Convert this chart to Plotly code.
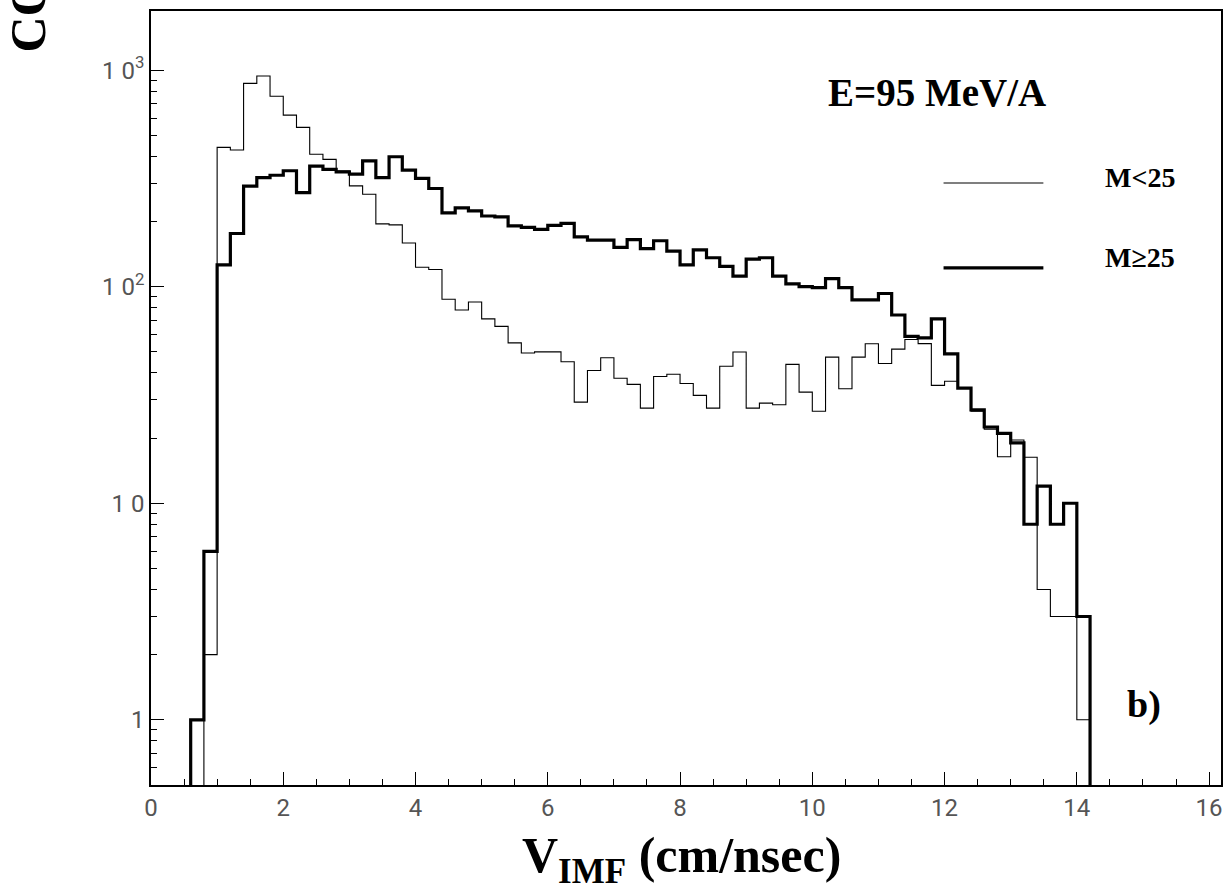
import plotly.graph_objects as go

# ---- data ----
BIN_WIDTH = 0.2

# M>=25 (thick line), first bin starts at 0.6 cm/ns
thick_start = 0.6
thick_counts = [1, 6, 126, 176, 291, 319, 327, 343, 272, 360,
                348, 339, 331, 381, 319, 398, 345, 316, 284, 219,
                231, 224, 212, 210, 191, 188, 184, 192, 196, 170,
                164, 164, 152, 165, 150, 163, 146, 126, 148, 136,
                124, 112, 134, 136, 112, 103, 100, 99, 109, 99,
                87, 87, 93, 74, 59, 58, 71, 49, 34, 27,
                22.5, 21, 19, 8, 12, 8, 10, 3]

# M<25 (thin line), first bin starts at 0.8 cm/ns
thin_start = 0.8
thin_counts = [2, 440, 428, 869, 940, 757, 620, 544, 409, 387,
               342, 292, 267, 195, 193, 159, 123, 120, 87.5, 78,
               85, 71, 65.6, 55, 49.4, 50, 50, 45, 29.3, 41,
               47, 37.8, 35.4, 27.5, 38.5, 39.4, 35.7, 31.5, 27.5, 42.9,
               49.9, 27.5, 29, 28.5, 43.8, 32.6, 26.6, 47.3, 33.8, 47.3,
               54.5, 44.2, 51.5, 57, 54.6, 35, 36.6, 34, 26.6, 22,
               16.4, 19.6, 16.3, 4, 3, 3, 1]

x_tick_values = [0, 2, 4, 6, 8, 10, 12, 14, 16]
y_tick_values = [1, 10, 100, 1000]
y_tick_labels = ["1", "1 0", "1 0<sup>2</sup>", "1 0<sup>3</sup>"]

FLOOR = 0.3  # below the visible range so the outline drops to the axis


def step_xy(start, counts):
    edges = [round(start + BIN_WIDTH * i, 6) for i in range(len(counts) + 1)]
    x = [edges[0]] + edges[:-1] + [edges[-1], edges[-1]]
    y = [FLOOR] + list(counts) + [counts[-1], FLOOR]
    return x, y


fig = go.Figure()
tx, ty = step_xy(thin_start, thin_counts)
fig.add_trace(go.Scatter(x=tx, y=ty, mode="lines", line_shape="hv",
                         line=dict(color="black", width=1.1), name="M<25"))
kx, ky = step_xy(thick_start, thick_counts)
fig.add_trace(go.Scatter(x=kx, y=ky, mode="lines", line_shape="hv",
                         line=dict(color="black", width=3.2), name="M≥25"))

tick_font = dict(family="Roboto, Liberation Sans, sans-serif", size=24, color="#555")

fig.update_layout(
    width=1228, height=895,
    margin=dict(l=151, r=5, t=11, b=110),
    plot_bgcolor="white", paper_bgcolor="white",
    showlegend=False,
    xaxis=dict(
        range=[0, 16.18], tickmode="array", tickvals=x_tick_values,
        ticks="inside", ticklen=13, tickwidth=1.2, tickcolor="black",
        showline=True, linecolor="black", linewidth=1.5, mirror=True,
        showgrid=False, zeroline=False, tickfont=tick_font,
        minor=dict(dtick=0.5, tick0=0, ticks="inside", ticklen=6,
                   tickwidth=1, tickcolor="black", showgrid=False),
    ),
    yaxis=dict(
        type="log", range=[-0.301, 3.273],
        tickmode="array", tickvals=y_tick_values, ticktext=y_tick_labels,
        ticks="inside", ticklen=13, tickwidth=1.2, tickcolor="black",
        showline=True, linecolor="black", linewidth=1.5, mirror=True,
        showgrid=False, zeroline=False, tickfont=dict(tick_font, size=24),
        minor=dict(dtick="D1", ticks="inside", ticklen=6, tickwidth=1,
                   tickcolor="black", showgrid=False),
    ),
)

serif = "Liberation Serif, Times New Roman, serif"

annotations = [
    dict(text="<b>E=95 MeV/A</b>", x=0.6306, y=0.8946, xanchor="left", yanchor="middle",
         font=dict(family=serif, size=39, color="black")),
    dict(text="<b>M<25</b>", x=0.89, y=0.7855, xanchor="left", yanchor="middle",
         font=dict(family=serif, size=28, color="black")),
    dict(text="<b>M≥25</b>", x=0.89, y=0.6814, xanchor="left", yanchor="middle",
         font=dict(family=serif, size=28, color="black")),
    dict(text="<b>b)</b>", x=0.928, y=0.104, xanchor="center", yanchor="middle",
         font=dict(family=serif, size=38, color="black")),
    dict(text="<b>V<sub>IMF</sub> (cm/nsec)</b>", x=0.496, y=-0.1395,
         xanchor="center", yanchor="bottom",
         font=dict(family=serif, size=50, color="black")),
    dict(text="<b>COUNTS</b>", x=-0.1147, y=0.944, xanchor="center", yanchor="bottom",
         textangle=-90, font=dict(family=serif, size=50, color="black")),
]
for a in annotations:
    a.update(xref="paper", yref="paper", showarrow=False)
fig.update_layout(annotations=annotations)

# legend keys
fig.add_shape(type="line", xref="paper", yref="paper", x0=0.7407, x1=0.834,
              y0=0.7778, y1=0.7778, line=dict(color="black", width=1.1))
fig.add_shape(type="line", xref="paper", yref="paper", x0=0.7407, x1=0.834,
              y0=0.668, y1=0.668, line=dict(color="black", width=3.2))

fig.write_html("out.html")
